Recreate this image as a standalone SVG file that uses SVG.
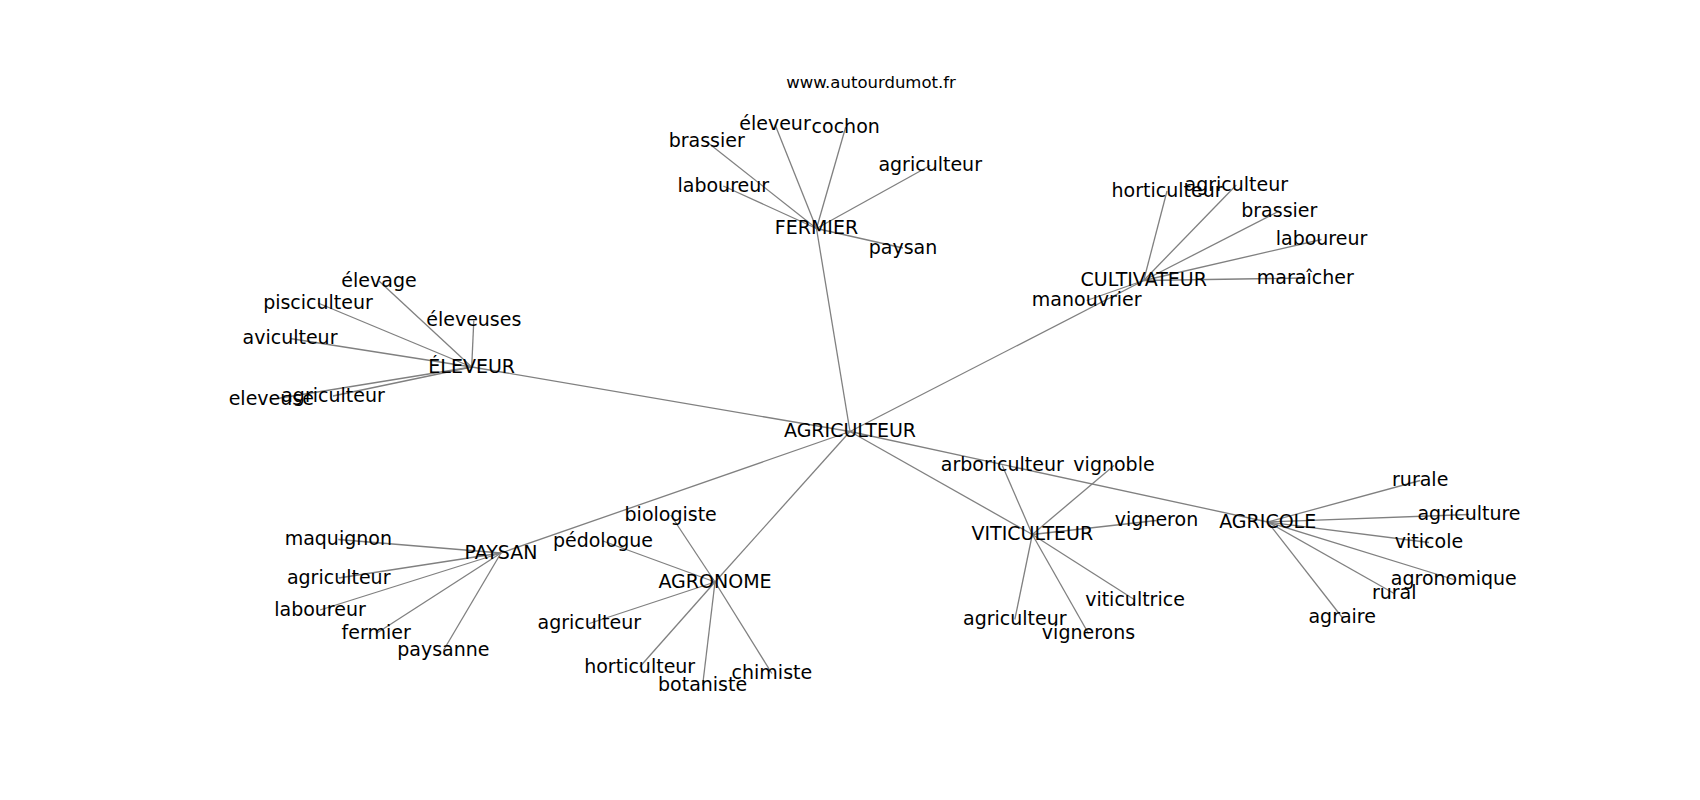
<svg xmlns="http://www.w3.org/2000/svg" width="1700" height="800" viewBox="0 0 1700 800">
<style>
.e{stroke:#808080;stroke-width:1.3;fill:none}
.t{font-family:"DejaVu Sans","Liberation Sans",sans-serif;font-size:19px;fill:#000;text-anchor:middle}
.title{font-family:"DejaVu Sans","Liberation Sans",sans-serif;font-size:16.5px;fill:#000;text-anchor:middle}
</style>
<rect width="1700" height="800" fill="#fff"/>
<text class="title" x="871" y="87.5">www.autourdumot.fr</text>
<g id="edges">
<line class="e" x1="850" y1="431.5" x2="816.5" y2="228.5"/>
<line class="e" x1="850" y1="431.5" x2="1143.7" y2="280.5"/>
<line class="e" x1="850" y1="431.5" x2="471.7" y2="367"/>
<line class="e" x1="850" y1="431.5" x2="501" y2="553"/>
<line class="e" x1="850" y1="431.5" x2="715" y2="582"/>
<line class="e" x1="850" y1="431.5" x2="1032.3" y2="534.5"/>
<line class="e" x1="850" y1="431.5" x2="1267.7" y2="522"/>
<line class="e" x1="816.5" y1="228.5" x2="706.7" y2="141.8"/>
<line class="e" x1="816.5" y1="228.5" x2="775" y2="124.5"/>
<line class="e" x1="816.5" y1="228.5" x2="845.7" y2="127"/>
<line class="e" x1="816.5" y1="228.5" x2="930.2" y2="165.5"/>
<line class="e" x1="816.5" y1="228.5" x2="723.3" y2="186"/>
<line class="e" x1="816.5" y1="228.5" x2="903" y2="248"/>
<line class="e" x1="1143.7" y1="280.5" x2="1167" y2="191"/>
<line class="e" x1="1143.7" y1="280.5" x2="1236.3" y2="185"/>
<line class="e" x1="1143.7" y1="280.5" x2="1279.3" y2="211"/>
<line class="e" x1="1143.7" y1="280.5" x2="1321.5" y2="239.5"/>
<line class="e" x1="1143.7" y1="280.5" x2="1305.3" y2="278"/>
<line class="e" x1="1143.7" y1="280.5" x2="1086.7" y2="300.5"/>
<line class="e" x1="471.7" y1="367" x2="379" y2="281"/>
<line class="e" x1="471.7" y1="367" x2="318" y2="303"/>
<line class="e" x1="471.7" y1="367" x2="473.8" y2="320.5"/>
<line class="e" x1="471.7" y1="367" x2="290" y2="338.5"/>
<line class="e" x1="471.7" y1="367" x2="333" y2="396"/>
<line class="e" x1="471.7" y1="367" x2="271.3" y2="399.5"/>
<line class="e" x1="501" y1="553" x2="338.3" y2="539.5"/>
<line class="e" x1="501" y1="553" x2="338.7" y2="578"/>
<line class="e" x1="501" y1="553" x2="320" y2="610"/>
<line class="e" x1="501" y1="553" x2="376.2" y2="633.5"/>
<line class="e" x1="501" y1="553" x2="443.4" y2="650.5"/>
<line class="e" x1="715" y1="582" x2="670.7" y2="515"/>
<line class="e" x1="715" y1="582" x2="603" y2="541"/>
<line class="e" x1="715" y1="582" x2="589.3" y2="623.5"/>
<line class="e" x1="715" y1="582" x2="639.7" y2="667"/>
<line class="e" x1="715" y1="582" x2="702.6" y2="685.5"/>
<line class="e" x1="715" y1="582" x2="771.9" y2="673.5"/>
<line class="e" x1="1032.3" y1="534.5" x2="1002.3" y2="465.5"/>
<line class="e" x1="1032.3" y1="534.5" x2="1114" y2="465.5"/>
<line class="e" x1="1032.3" y1="534.5" x2="1156.5" y2="520.5"/>
<line class="e" x1="1032.3" y1="534.5" x2="1135" y2="600"/>
<line class="e" x1="1032.3" y1="534.5" x2="1014.8" y2="619.5"/>
<line class="e" x1="1032.3" y1="534.5" x2="1088.5" y2="633.5"/>
<line class="e" x1="1267.7" y1="522" x2="1420.2" y2="480.5"/>
<line class="e" x1="1267.7" y1="522" x2="1469" y2="514.5"/>
<line class="e" x1="1267.7" y1="522" x2="1429" y2="542.5"/>
<line class="e" x1="1267.7" y1="522" x2="1453.8" y2="579.5"/>
<line class="e" x1="1267.7" y1="522" x2="1394.2" y2="593.5"/>
<line class="e" x1="1267.7" y1="522" x2="1342.2" y2="617.5"/>
</g>
<g id="n-agriculteur"><text class="t" x="850" y="437">AGRICULTEUR</text></g>
<g id="n-fermier"><text class="t" x="816.5" y="234">FERMIER</text></g>
<g id="n-f-brassier"><text class="t" x="706.7" y="147.3">brassier</text></g>
<g id="n-f-eleveur"><text class="t" x="775" y="130">éleveur</text></g>
<g id="n-f-cochon"><text class="t" x="845.7" y="132.5">cochon</text></g>
<g id="n-f-agriculteur"><text class="t" x="930.2" y="171">agriculteur</text></g>
<g id="n-f-laboureur"><text class="t" x="723.3" y="191.5">laboureur</text></g>
<g id="n-f-paysan"><text class="t" x="903" y="253.5">paysan</text></g>
<g id="n-cultivateur"><text class="t" x="1143.7" y="286">CULTIVATEUR</text></g>
<g id="n-c-horticulteur"><text class="t" x="1167" y="196.5">horticulteur</text></g>
<g id="n-c-agriculteur"><text class="t" x="1236.3" y="190.5">agriculteur</text></g>
<g id="n-c-brassier"><text class="t" x="1279.3" y="216.5">brassier</text></g>
<g id="n-c-laboureur"><text class="t" x="1321.5" y="245">laboureur</text></g>
<g id="n-c-maraicher"><text class="t" x="1305.3" y="283.5">maraîcher</text></g>
<g id="n-c-manouvrier"><text class="t" x="1086.7" y="306">manouvrier</text></g>
<g id="n-eleveur"><text class="t" x="471.7" y="372.5">ÉLEVEUR</text></g>
<g id="n-e-elevage"><text class="t" x="379" y="286.5">élevage</text></g>
<g id="n-e-pisciculteur"><text class="t" x="318" y="308.5">pisciculteur</text></g>
<g id="n-e-eleveuses"><text class="t" x="473.8" y="326">éleveuses</text></g>
<g id="n-e-aviculteur"><text class="t" x="290" y="344">aviculteur</text></g>
<g id="n-e-agriculteur"><text class="t" x="333" y="401.5">agriculteur</text></g>
<g id="n-e-eleveuse"><text class="t" x="271.3" y="405">eleveuse</text></g>
<g id="n-paysan"><text class="t" x="501" y="558.5">PAYSAN</text></g>
<g id="n-p-maquignon"><text class="t" x="338.3" y="545">maquignon</text></g>
<g id="n-p-agriculteur"><text class="t" x="338.7" y="583.5">agriculteur</text></g>
<g id="n-p-laboureur"><text class="t" x="320" y="615.5">laboureur</text></g>
<g id="n-p-fermier"><text class="t" x="376.2" y="639">fermier</text></g>
<g id="n-p-paysanne"><text class="t" x="443.4" y="656">paysanne</text></g>
<g id="n-agronome"><text class="t" x="715" y="587.5">AGRONOME</text></g>
<g id="n-a-biologiste"><text class="t" x="670.7" y="520.5">biologiste</text></g>
<g id="n-a-pedologue"><text class="t" x="603" y="546.5">pédologue</text></g>
<g id="n-a-agriculteur"><text class="t" x="589.3" y="629">agriculteur</text></g>
<g id="n-a-horticulteur"><text class="t" x="639.7" y="672.5">horticulteur</text></g>
<g id="n-a-botaniste"><text class="t" x="702.6" y="691">botaniste</text></g>
<g id="n-a-chimiste"><text class="t" x="771.9" y="679">chimiste</text></g>
<g id="n-viticulteur"><text class="t" x="1032.3" y="540">VITICULTEUR</text></g>
<g id="n-v-arboriculteur"><text class="t" x="1002.3" y="471">arboriculteur</text></g>
<g id="n-v-vignoble"><text class="t" x="1114" y="471">vignoble</text></g>
<g id="n-v-vigneron"><text class="t" x="1156.5" y="526">vigneron</text></g>
<g id="n-v-viticultrice"><text class="t" x="1135" y="605.5">viticultrice</text></g>
<g id="n-v-agriculteur"><text class="t" x="1014.8" y="625">agriculteur</text></g>
<g id="n-v-vignerons"><text class="t" x="1088.5" y="639">vignerons</text></g>
<g id="n-agricole"><text class="t" x="1267.7" y="527.5">AGRICOLE</text></g>
<g id="n-g-rurale"><text class="t" x="1420.2" y="486">rurale</text></g>
<g id="n-g-agriculture"><text class="t" x="1469" y="520">agriculture</text></g>
<g id="n-g-viticole"><text class="t" x="1429" y="548">viticole</text></g>
<g id="n-g-agronomique"><text class="t" x="1453.8" y="585">agronomique</text></g>
<g id="n-g-rural"><text class="t" x="1394.2" y="599">rural</text></g>
<g id="n-g-agraire"><text class="t" x="1342.2" y="623">agraire</text></g>
</svg>
